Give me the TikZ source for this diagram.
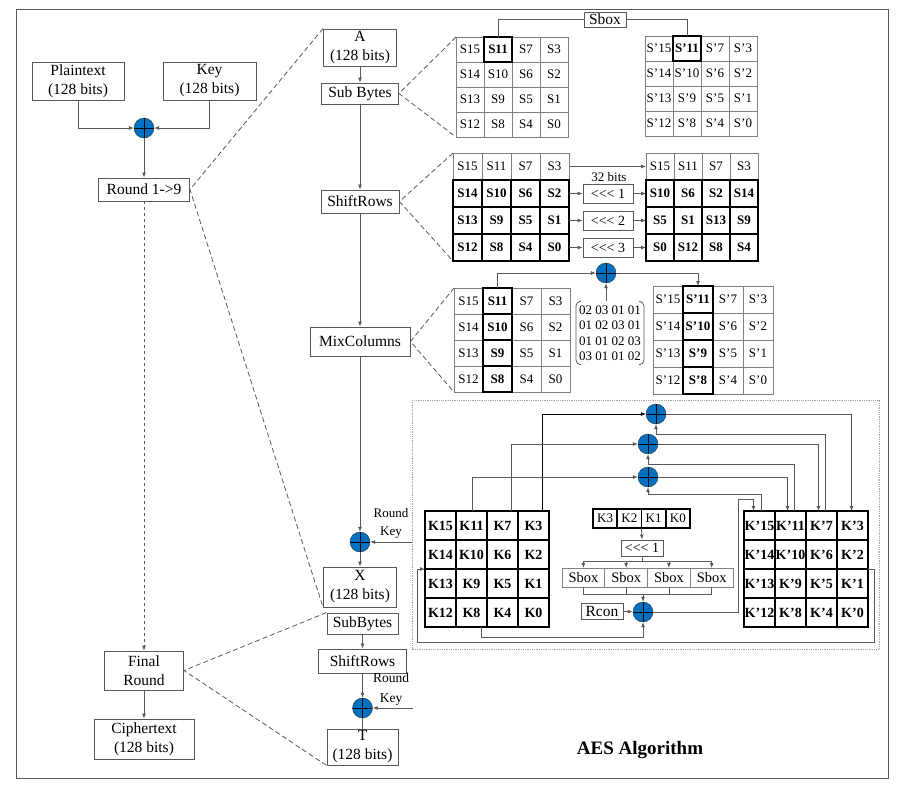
\documentclass[tikz,border=0pt]{standalone}
\usepackage{fontspec}
\setmainfont{Liberation Serif}
\usetikzlibrary{arrows.meta}
\definecolor{xorblue}{HTML}{0070C0}
\definecolor{linegray}{HTML}{595959}
\newcommand{\rotl}{\textless\kern0pt\textless\kern0pt\textless}
\begin{document}
\begin{tikzpicture}[x=1pt,y=-1pt,
	box/.style={draw=linegray,line width=0.9pt,fill=white,inner sep=0pt,align=center,font=\fontsize{15.5}{19}\selectfont},
	cell/.style={draw=gray,line width=0.7pt,inner sep=0pt,outer sep=0pt,font=\fontsize{13}{15}\selectfont},
	kcell/.style={draw=black,line width=1.6pt,inner sep=0pt,outer sep=0pt,minimum width=31,minimum height=29,font=\bfseries\fontsize{14}{16}\selectfont},
	heavy/.style={draw=black,line width=1.6pt},
	small/.style={align=center,font=\fontsize{13}{18}\selectfont},
	arr/.style={draw=linegray,line width=0.8pt,-{Latex[length=5pt,width=4pt]}},
	wire/.style={draw=linegray,line width=0.8pt},
	zoomline/.style={draw=linegray,line width=0.8pt,dash pattern=on 5pt off 3pt},
	xor/.style={circle,draw=black!80,fill=xorblue,minimum size=20,inner sep=0pt,
		path picture={\draw[black,line width=0.7pt] (path picture bounding box.north) -- (path picture bounding box.south)
		(path picture bounding box.west) -- (path picture bounding box.east);}}]
\useasboundingbox (0,0) rectangle (904,788);
\draw[linegray,line width=0.9pt] (16,9) rectangle (888,778);

\node[box,minimum width=92,minimum height=38] (plain) at (78,81) {Plaintext\\(128 bits)};
\node[box,minimum width=93,minimum height=38] (key) at (209.5,81) {Key\\(128 bits)};
\node[xor] (x0) at (144,128) {};
\node[box,minimum width=91,minimum height=23] (round) at (144,189.5) {Round 1->9};
\node[box,minimum width=79,minimum height=39] (final) at (144,670.5) {Final\\Round};
\node[box,minimum width=100,minimum height=40] (cipher) at (144,739) {Ciphertext\\(128 bits)};
\draw[arr] (plain.south) |- (x0.west);
\draw[arr] (key.south) |- (x0.east);
\draw[arr] (x0) -- (round);
\draw[arr,dashed] (round) -- (final);
\draw[arr] (final) -- (cipher);

\node[box,minimum width=73,minimum height=37] (a) at (360,47.5) {A\\(128 bits)};
\node[box,minimum width=77,minimum height=21] (sub) at (360,93.5) {Sub Bytes};
\node[box,minimum width=78,minimum height=23] (shift) at (360,201.5) {ShiftRows};
\node[box,minimum width=100,minimum height=29] (mix) at (360,341.5) {MixColumns};
\node[xor] (x1) at (360,542) {};
\node[box,minimum width=73,minimum height=40] (xb) at (360,587) {X\\(128 bits)};
\node[box,minimum width=71,minimum height=21] (sub2) at (362.5,623.5) {SubBytes};
\node[box,minimum width=88,minimum height=24] (shift2) at (362.5,661) {ShiftRows};
\node[xor] (x2) at (362.5,708) {};
\node[box,minimum width=71,minimum height=36] (t) at (362.5,747) {T\\(128 bits)};
\node[small] (rk1l) at (391,523) {Round\\Key};
\node[small,font=\fontsize{13.5}{20}\selectfont] (rk2l) at (391,689) {Round\\Key};
\coordinate (rk1) at (413,542);
\coordinate (rk2) at (413,708);
\draw[arr] (a) -- (sub);
\draw[arr] (sub) -- (shift);
\draw[arr] (shift) -- (mix);
\draw[arr] (mix) -- (x1);
\draw[arr] (x1) -- (xb);
\draw[arr] (sub2) -- (shift2);
\draw[arr] (shift2) -- (x2);
\draw[wire] (x2) -- (t);
\draw[arr] (rk1) -- (x1);
\draw[arr] (rk2) -- (x2);
\draw[zoomline] (a.north west) -- (round.east) -- (xb.south west);
\draw[zoomline] (sub2.north west) -- (final.east) -- (t.south west);

% Sub Bytes
\foreach \t [count=\i from 0] in {S15,\textbf{S11},S7,S3,S14,S10,S6,S2,S13,S9,S5,S1,S12,S8,S4,S0}
	\node[cell,minimum width=28,minimum height=25] (ga\i) at ({470+28*mod(\i,4)},{49.5+25*int(\i/4)}) {\t};
\foreach \t [count=\i from 0] in {S’15,\textbf{S’11},S’7,S’3,S’14,S’10,S’6,S’2,S’13,S’9,S’5,S’1,S’12,S’8,S’4,S’0}
	\node[cell,minimum width=28,minimum height=25] (gb\i) at ({659+28*mod(\i,4)},{48.5+25*int(\i/4)}) {\t};
\draw[heavy] (ga1.north west) rectangle (ga1.south east);
\draw[heavy] (gb1.north west) rectangle (gb1.south east);
\node[box,minimum width=42,minimum height=15] (sbox) at (605,19.5) {Sbox};
\draw[wire] (ga1.north) |- (sbox.west);
\draw[wire] (sbox.east) -| (gb1.north);
\draw[zoomline] (ga0.north west) -- (sub.east) -- (ga12.south west);

% ShiftRows
\foreach \t [count=\i from 0] in {S15,S11,S7,S3,\textbf{S14},\textbf{S10},\textbf{S6},\textbf{S2},\textbf{S13},\textbf{S9},\textbf{S5},\textbf{S1},\textbf{S12},\textbf{S8},\textbf{S4},\textbf{S0}}
	\node[cell,minimum width=29,minimum height=27] (gc\i) at ({467.5+29*mod(\i,4)},{166.5+27*int(\i/4)}) {\t};
\foreach \t [count=\i from 0] in {S15,S11,S7,S3,\textbf{S10},\textbf{S6},\textbf{S2},\textbf{S14},\textbf{S5},\textbf{S1},\textbf{S13},\textbf{S9},\textbf{S0},\textbf{S12},\textbf{S8},\textbf{S4}}
	\node[cell,minimum width=28,minimum height=27] (gd\i) at ({660+28*mod(\i,4)},{166.5+27*int(\i/4)}) {\t};
\foreach \i in {4,...,15} {
	\draw[heavy] (gc\i.north west) rectangle (gc\i.south east);
	\draw[heavy] (gd\i.north west) rectangle (gd\i.south east);
}
\draw[arr] (gc3.east) -- (gd0.west);
\node[small] (bits) at (609,177) {32 bits};
\foreach \r/\n/\m in {1/7/4,2/11/8,3/15/12} {
	\node[box,minimum width=50,minimum height=19,font=\fontsize{14}{16}\selectfont] (sh\r) at (608,{166.5+27*\r}) {\rotl{} \r};
	\draw[arr] (gc\n.east) -- (sh\r.west);
	\draw[arr] (sh\r.east) -- (gd\m.west);
}
\draw[zoomline] (gc0.north west) -- (shift.east) -- (gc12.south west);

% MixColumns
\foreach \t [count=\i from 0] in {S15,\textbf{S11},S7,S3,S14,\textbf{S10},S6,S2,S13,\textbf{S9},S5,S1,S12,\textbf{S8},S4,S0}
	\node[cell,minimum width=29,minimum height=26] (ge\i) at ({468.5+29*mod(\i,4)},{301+26*int(\i/4)}) {\t};
\foreach \t [count=\i from 0] in {S’15,\textbf{S’11},S’7,S’3,S’14,\textbf{S’10},S’6,S’2,S’13,\textbf{S’9},S’5,S’1,S’12,\textbf{S’8},S’4,S’0}
	\node[cell,minimum width=30,minimum height=27] (gf\i) at ({668+30*mod(\i,4)},{299.5+27*int(\i/4)}) {\t};
\foreach \i in {1,5,9,13} {
	\draw[heavy] (ge\i.north west) rectangle (ge\i.south east);
	\draw[heavy] (gf\i.north west) rectangle (gf\i.south east);
}
\node[xor] (xm) at (606,273) {};
\node[inner sep=0pt,align=center,font=\fontsize{13}{15.5}\selectfont] (mat) at (610,333) {02 03 01 01\\01 02 03 01\\01 01 02 03\\03 01 01 02};
\draw[wire,rounded corners=5pt] ([xshift=2,yshift=4]mat.north west) -- ([xshift=-3,yshift=4]mat.north west) -- ([xshift=-3,yshift=-4]mat.south west) -- ([xshift=2,yshift=-4]mat.south west);
\draw[wire,rounded corners=5pt] ([xshift=-2,yshift=4]mat.north east) -- ([xshift=3,yshift=4]mat.north east) -- ([xshift=3,yshift=-4]mat.south east) -- ([xshift=-2,yshift=-4]mat.south east);
\draw[arr] ([yshift=4]mat.north -| xm) -- (xm.south);
\draw[arr] (ge1.north) |- (xm.west);
\draw[arr] (xm.east) -| (gf1.north);
\draw[zoomline] (ge0.north west) -- (mix.east) -- (ge12.south west);

% key expansion
\draw[gray!70,densely dotted,line width=0.8pt] (412,400) rectangle (879,649);
\foreach \t [count=\i from 0] in {K15,K11,K7,K3,K14,K10,K6,K2,K13,K9,K5,K1,K12,K8,K4,K0}
	\node[kcell] (k\i) at ({440.5+31*mod(\i,4)},{525.5+29*int(\i/4)}) {\t};
\foreach \t [count=\i from 0] in {K’15,K’11,K’7,K’3,K’14,K’10,K’6,K’2,K’13,K’9,K’5,K’1,K’12,K’8,K’4,K’0}
	\node[kcell] (kp\i) at ({759.5+31*mod(\i,4)},{525.5+29*int(\i/4)}) {\t};
\foreach \t [count=\i from 0] in {K3,K2,K1,K0}
	\node[kcell,minimum width=24.25,minimum height=19,font=\fontsize{13}{15}\selectfont] (kw\i) at ({605.1+24.25*\i},518.5) {\t};
\node[box,minimum width=42,minimum height=16,font=\fontsize{14}{16}\selectfont] (rot) at (642,548) {\rotl{} 1};
\foreach \i in {0,...,3}
	\node[cell,minimum width=42.75,minimum height=19,font=\fontsize{14.5}{16}\selectfont] (sb\i) at ({583.4+42.75*\i},577.5) {Sbox};
\node[box,minimum width=42,minimum height=16] (rcon) at (602,611) {Rcon};
\node[xor] (xk) at (643,612) {};
\coordinate (bt) at (642,561);
\coordinate (bb) at (643,594);
\coordinate (kb) at (643,637);
\draw[arr] (kw1.south east) -- (rot.north);
\draw[wire] (rot.south) -- (bt);
\draw[wire] (sb0.north |- bt) -- (sb3.north |- bt);
\draw[wire] (sb0.south |- bb) -- (sb3.south |- bb);
\foreach \i in {0,...,3} {
	\draw[arr] (sb\i.north |- bt) -- (sb\i.north);
	\draw[wire] (sb\i.south) -- (sb\i.south |- bb);
}
\draw[arr] (bb) -- (xk.north);
\draw[arr] (rcon) -- (xk);
\draw[arr] (xk.east) -| (738,499) -| ([xshift=-6]kp0.north);
\draw[arr] ([xshift=10]k13.south) |- (kb) -- (xk.south);
\draw[arr] (kp11.north east) -| (874,642) -| (417,569) -- (k8.north west);

\node[xor] (xa) at (656,414) {};
\node[xor] (xb2) at (648,444) {};
\node[xor] (xc) at (648,477) {};
\coordinate (fa) at (656,434);
\coordinate (fb) at (648,464);
\coordinate (fc) at (648,494);
\draw[arr,draw=black] ([xshift=9]k3.north) |- (xa.west);
\draw[arr] ([xshift=9]k2.north) |- (xb2.west);
\draw[arr] ([xshift=1]k1.north) |- (xc.west);
\draw[arr] (xa.east) -| ([xshift=-1]kp3.north);
\draw[arr] (xb2.east) -| ([xshift=-3]kp2.north);
\draw[arr] (xc.east) -| ([xshift=-3]kp1.north);
\draw[arr] ([xshift=2]kp0.north) |- (fc) -- (xc.south);
\draw[arr] ([xshift=4]kp1.north) |- (fb) -- (xb2.south);
\draw[arr] ([xshift=4]kp2.north) |- (fa) -- (xa.south);

\node[font=\bfseries\fontsize{19}{22}\selectfont] (title) at (640,750) {AES Algorithm};
\end{tikzpicture}
\end{document}
